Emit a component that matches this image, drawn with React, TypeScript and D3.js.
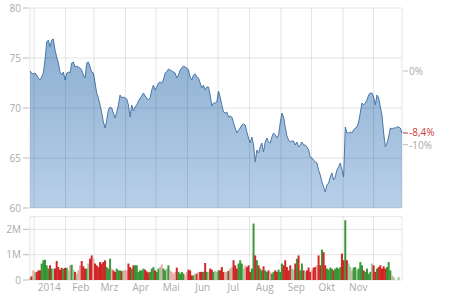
import React from "react";
import * as d3 from "d3";

// ---- data ----
const priceA = [
  73.7, 73.5, 73.4, 73.5, 73.3, 73.0, 72.8, 73.1, 73.5, 74.8,
  76.6, 76.8, 76.1, 76.8, 76.9, 75.8, 75.1, 74.5, 73.6, 73.3,
  73.6, 72.8, 73.5, 73.6, 73.5, 74.5, 74.6, 74.1, 74.2, 74.1,
  74.0, 73.8, 73.3, 73.0, 74.5, 74.6, 74.1, 73.6, 73.5, 72.5,
  71.5, 71.0, 70.3, 69.5, 68.6, 68.0, 68.8, 69.8, 70.1, 70.0,
  69.5, 69.0, 69.6, 70.3, 71.3, 71.0, 71.1, 71.0, 70.9, 70.3,
  69.1, 70.3, 69.7, 70.1, 70.3, 70.7, 71.0, 71.2, 71.5, 71.2,
  71.0, 70.8, 71.0, 71.8, 72.3,
];
const priceB = [
  71.8, 72.1, 72.5, 72.6, 72.5, 72.8, 73.5, 73.6, 73.9, 73.8,
  73.7, 73.6, 73.5, 73.0, 73.3, 73.8, 74.0, 74.2, 74.1, 74.0,
  73.8, 73.1, 72.8, 73.3, 73.4, 73.1, 73.0, 72.5, 72.0, 72.3,
  71.8, 72.1, 72.1, 71.3, 70.2, 70.5, 70.5, 70.6, 71.7, 71.1,
  70.3, 69.6, 69.5, 69.6, 69.1, 69.2, 69.1, 68.5, 68.0, 67.5,
  67.8, 68.0, 68.3, 68.4, 68.3, 67.6, 67.0, 66.5, 67.1, 66.3,
  64.6, 65.8, 65.5, 66.1, 66.5, 65.6, 66.6, 67.0, 66.6, 66.5,
  67.1, 67.5, 67.3, 67.0,
];
const priceC = [
  67.3, 68.5, 69.5, 69.1, 68.1, 67.2, 66.8, 66.6, 66.7, 66.7,
  66.3, 66.6, 66.1, 66.3, 66.6, 66.3, 66.3, 66.1, 65.8, 65.1,
  65.0, 64.8, 64.6, 64.5, 63.8, 63.3, 62.6, 62.1, 61.6, 62.3,
  62.5, 63.1, 63.5, 62.8, 63.1, 63.8, 64.1, 64.5, 63.8, 63.1,
  68.1, 67.5, 67.5, 67.6, 67.5, 67.8, 68.0, 68.1, 68.6, 69.5,
  70.5, 70.3, 70.5, 70.8, 71.3, 71.5, 71.5, 71.1, 70.3, 71.3,
  71.0, 70.1, 69.3, 67.5, 66.1, 66.5, 67.1, 68.0, 67.9, 68.0,
  68.0, 68.1, 68.1, 68.0, 67.5,
];
const prices = [...priceA, ...priceB, ...priceC];

// volumes in millions
const volA = [
  0.10, 0.15, 0.38, 0.30, 0.32, 0.38, 0.38, 0.65, 0.78, 0.80,
  0.58, 0.45, 0.58, 0.45, 0.45, 0.45, 0.75, 0.51, 0.40, 0.48,
  0.45, 0.48, 0.48, 0.38, 0.58, 0.60, 0.40, 0.32, 0.25, 0.38,
  0.58, 0.75, 0.54, 0.45, 0.45, 0.65, 0.84, 0.97, 0.84, 0.65,
  0.58, 0.51, 0.71, 0.65, 0.71, 0.78, 0.51, 0.45, 0.84, 0.45,
  0.38, 0.32, 0.45, 0.38, 0.38, 0.35, 0.38, 0.38, 0.38, 0.65,
  0.51, 0.45, 0.58, 0.58, 0.58, 0.32, 0.38, 0.38, 0.45, 0.41,
  0.34, 0.30,
];
const volB = [
  0.32, 0.45, 0.51, 0.38, 0.32, 0.45, 0.51, 0.62, 0.45, 0.38,
  0.45, 0.58, 0.38, 0.32, 0.25, 0.32, 0.49, 0.32, 0.25, 0.32,
  0.25, 0.18, 0.32, 0.41, 0.38, 0.18, 0.18, 0.25, 0.25, 0.32,
  0.32, 0.32, 0.32, 0.67, 0.32, 0.32, 0.45, 0.41, 0.32, 0.36,
  0.32, 0.38, 0.38, 0.51, 0.32, 0.32, 0.32, 0.36, 0.45, 0.51,
  0.78, 0.58, 0.45, 0.65, 0.78, 0.65, 0.45, 0.58, 0.51, 0.58,
  0.32, 0.45, 2.23, 0.97, 0.78, 0.58, 0.45, 0.38, 0.54, 0.38,
  0.32, 0.38, 0.32, 0.25, 0.32, 0.38, 0.32, 0.41, 0.32, 0.65,
  0.58, 0.78, 0.51, 0.38, 0.58, 0.45, 0.41, 0.65, 0.84, 0.97,
];
const volC = [
  0.38, 0.65, 0.38, 0.32, 0.38, 0.49, 0.32, 0.38, 0.49, 0.51,
  0.58, 0.97, 0.58, 1.20, 1.10, 0.58, 0.45, 0.41, 0.49, 0.45,
  0.38, 0.45, 0.49, 0.45, 0.51, 1.04, 0.78, 2.36, 0.78, 0.65,
  0.51, 0.38, 0.49, 0.51, 0.38, 0.45, 0.71, 0.58, 0.38, 0.32,
  0.45, 0.25, 0.32, 0.65, 0.58, 0.32, 0.45, 0.51, 0.58, 0.45,
  0.54, 0.45, 0.51, 0.71, 0.38, 0.18, 0.12, 0.0, 0.0, 0.12,
  0.0, 0.0, 0.0,
];
const volumes = [...volA, ...volB, ...volC];
// bars read as green in the picture although the close fell
const volGreenBars = [134, 175, 189];

const priceTicks = [60, 65, 70, 75, 80];
const volTicks = [0, 1, 2];
const volTickLabels = ["0", "1M", "2M"];
const pctTicks = [0, -10];
const pctTickLabels = ["0%", "-10%"];
const monthLabels = ["2014", "Feb", "Mrz", "Apr", "Mai", "Jun", "Jul", "Aug", "Sep", "Okt", "Nov"];
const startDate = new Date(2013, 11, 28);
const endDate = new Date(2014, 11, 29);

const FONT = "'Open Sans', 'DejaVu Sans', sans-serif";
const GRAY = "#aaaaaa";
const GRID = "rgba(0,0,0,0.1)";

export default function App() {
  const L = 30, R = 402;
  const x = d3.scaleTime().domain([startDate, endDate]).range([L, R]);
  const y = d3.scaleLinear().domain([60, 80]).range([208, 8]);
  const yv = d3.scaleLinear().domain([0, 2.5]).range([280, 216.7]);
  const n = prices.length;
  const xi = d3.scaleLinear().domain([0, n - 1]).range([x(startDate), x(endDate)]);

  const area = d3.area<number>().x((_, i) => xi(i)).y0(y(60)).y1((d) => y(d));
  const line = d3.line<number>().x((_, i) => xi(i)).y((d) => y(d));

  const months = d3.timeMonth.range(new Date(2014, 0, 1), new Date(2014, 11, 2));
  const base = prices[0];
  const last = prices[n - 1];
  const lastPct = (last / base - 1) * 100;
  const lastLabel = (lastPct >= 0 ? "+" : "") + lastPct.toFixed(1).replace(".", ",") + "%";

  return (
    <svg width={450} height={300} style={{ position: "absolute", left: 0, top: 0, background: "#fff" }} fontFamily={FONT}>
      <defs>
        <linearGradient id="ag2" x1="0" y1={y(77)} x2="0" y2={y(60)} gradientUnits="userSpaceOnUse">
          <stop offset="0" stopColor="#8cafd2" />
          <stop offset="1" stopColor="#b8cfe8" />
        </linearGradient>
      </defs>

      {/* price area */}
      <path d={area(prices) || ""} fill="url(#ag2)" />
      <path d={line(prices) || ""} fill="none" stroke="#4a78a8" strokeWidth={1} strokeLinejoin="round" />

      {/* price grid */}
      {priceTicks.map((t) => (
        <line key={"hg" + t} x1={L} x2={R} y1={y(t)} y2={y(t)} stroke={GRID} />
      ))}
      {months.map((m, i) => (
        <line key={"vg" + i} x1={x(m)} x2={x(m)} y1={y(80)} y2={y(60)} stroke={GRID} />
      ))}
      <line x1={L} x2={L} y1={y(80)} y2={y(60)} stroke={GRID} />
      <line x1={R} x2={R} y1={y(80)} y2={y(60)} stroke={GRID} />

      {/* price y axis */}
      {priceTicks.map((t) => (
        <g key={"pt" + t}>
          <line x1={23} x2={29} y1={y(t)} y2={y(t)} stroke="#bbb" />
          <text x={21} y={y(t)} dy="0.35em" textAnchor="end" fontSize={10} fill={GRAY}>{t}</text>
        </g>
      ))}

      {/* percent axis */}
      {pctTicks.map((p, i) => (
        <g key={"pc" + p}>
          <line x1={R + 1} x2={R + 6} y1={y(base * (1 + p / 100))} y2={y(base * (1 + p / 100))} stroke="#bbb" />
          <text x={R + 7} y={y(base * (1 + p / 100)) + (p === -10 ? 1 : 0)} dy="0.35em" fontSize={10} fill={GRAY}>{pctTickLabels[i]}</text>
        </g>
      ))}
      <line x1={R + 1} x2={R + 6} y1={y(last)} y2={y(last)} stroke="#c83a3a" />
      <text x={R + 7} y={y(last) - 1} dy="0.35em" fontSize={10} fill="#c83a3a">{lastLabel}</text>

      {/* volume panel */}
      <line x1={L} x2={R} y1={yv(2.5)} y2={yv(2.5)} stroke={GRID} />
      {volTicks.map((t) => (
        <line key={"vh" + t} x1={L} x2={R} y1={yv(t)} y2={yv(t)} stroke={GRID} />
      ))}
      {months.map((m, i) => (
        <line key={"vv" + i} x1={x(m)} x2={x(m)} y1={yv(2.5)} y2={yv(0)} stroke={GRID} />
      ))}
      <line x1={L} x2={L} y1={yv(2.5)} y2={yv(0)} stroke={GRID} />
      <line x1={R} x2={R} y1={yv(2.5)} y2={yv(0)} stroke={GRID} />
      {volumes.map((v, i) => {
        if (v <= 0) return null;
        const ch = i > 0 ? prices[i] - prices[i - 1] : 0;
        const up = ch >= 0 || volGreenBars.includes(i);
        const small = Math.abs(ch) < 0.12;
        const col = up ? (small ? "#8cc48c" : "#1f8a1f") : (small ? "#e8a0a0" : "#cc0a0a");
        return (
          <rect key={"vb" + i} x={xi(i) - 1} y={yv(v)} width={2} height={yv(0) - yv(v)} fill={col} opacity={0.88} />
        );
      })}
      {volTicks.map((t, i) => (
        <g key={"vt" + t}>
          <line x1={23} x2={29} y1={yv(t)} y2={yv(t)} stroke="#bbb" />
          <text x={21} y={yv(t)} dy="0.35em" textAnchor="end" fontSize={10} fill={GRAY}>{volTickLabels[i]}</text>
        </g>
      ))}

      {/* month labels */}
      {monthLabels.map((lab, i) => (
        <text key={"ml" + i} x={x(new Date(2014, i, 16))} y={287} dy="0.35em" textAnchor="middle" fontSize={10} fill={GRAY}>{lab}</text>
      ))}
    </svg>
  );
}
